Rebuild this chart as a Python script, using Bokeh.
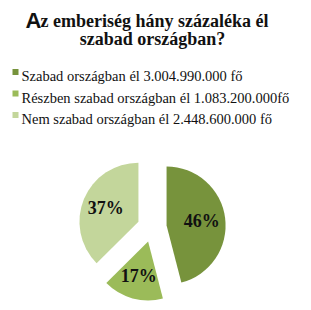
import math
from bokeh.plotting import figure
from bokeh.models import Range1d, ColumnDataSource, Label
from bokeh.core.properties import value
from bokeh.embed import file_html
from bokeh.resources import INLINE

# ---- data ----
categories = ["Szabad országban él", "Részben szabad országban él", "Nem szabad országban él"]
populations = [3004990000, 1083200000, 2448600000]
legend_labels = [
    "Szabad országban él 3.004.990.000 fő",
    "Részben szabad országban él 1.083.200.000fő",
    "Nem szabad országban él 2.448.600.000  fő",
]
colors = ["#77933C", "#9BBB59", "#C3D69B"]
title_first = "A"
title_line1 = "z emberiség hány százaléka él"
title_line2 = "szabad országban?"

SERIF = "Liberation Serif"
SANS = "Liberation Sans"

# ---- layout ----
W, H = 311, 310
CX, CY = 151.5, H - 226.8
R = 59.0
EXPLODE = 14.7
LABEL_F = 0.6

p = figure(width=W, height=H, x_range=Range1d(0, W), y_range=Range1d(0, H),
           output_backend="svg", toolbar_location=None,
           x_axis_type=None, y_axis_type=None,
           min_border=0, min_border_left=0, min_border_right=0,
           min_border_top=0, min_border_bottom=0)
p.xgrid.visible = False
p.ygrid.visible = False
p.outline_line_color = None
p.background_fill_color = "white"
p.border_fill_color = "white"

total = float(sum(populations))
xs, ys, starts, ends, lxs, lys, pct = [], [], [], [], [], [], []
cum = 0.0
for v in populations:
    a1 = cum / total * 2 * math.pi
    a2 = (cum + v) / total * 2 * math.pi
    cum += v
    mid = math.pi / 2 - (a1 + a2) / 2
    x = CX + EXPLODE * math.cos(mid)
    y = CY + EXPLODE * math.sin(mid)
    xs.append(x); ys.append(y)
    starts.append(math.pi / 2 - a2)
    ends.append(math.pi / 2 - a1)
    lxs.append(x + LABEL_F * R * math.cos(mid))
    lys.append(y + LABEL_F * R * math.sin(mid))
    pct.append(f"{round(v / total * 100)}%")

src = ColumnDataSource(dict(x=xs, y=ys, start=starts, end=ends, color=colors,
                            lx=lxs, ly=lys, pct=pct, cat=categories))
p.wedge(x="x", y="y", radius=R, start_angle="start", end_angle="end",
        direction="anticlock", fill_color="color", line_color=None, source=src)
p.text(x="lx", y="ly", text="pct", source=src, text_align="center",
       text_baseline="middle", text_font=value(SERIF),
       text_font_style="bold", text_font_size="18px", text_color="#111111")

# legend
leg_y = [H - 71.5 - 21.5 * i for i in range(len(legend_labels))]
leg_src = ColumnDataSource(dict(x=[15] * len(legend_labels), y=leg_y,
                                tx=[21] * len(legend_labels),
                                ty=[yy - 4 for yy in leg_y],
                                color=colors, label=legend_labels))
p.rect(x="x", y="y", width=6, height=6, fill_color="color", line_color=None, source=leg_src)
p.text(x="tx", y="ty", text="label", source=leg_src, text_align="left",
       text_baseline="alphabetic", text_font=value(SERIF),
       text_font_size="14.5px", text_color="#111111")

# title
p.add_layout(Label(x=25, y=H - 20, text=title_first, text_font=SANS,
                   text_font_style="bold", text_font_size="22px",
                   text_baseline="alphabetic", text_align="left", text_color="#111111"))
p.add_layout(Label(x=40, y=H - 20, text=title_line1, text_font=SERIF,
                   text_font_style="bold", text_font_size="18px",
                   text_baseline="alphabetic", text_align="left", text_color="#111111"))
p.add_layout(Label(x=152, y=H - 38, text=title_line2, text_font=SERIF,
                   text_font_style="bold", text_font_size="18px",
                   text_baseline="alphabetic", text_align="center", text_color="#111111"))

open("out.html", "w").write(file_html(p, INLINE))
